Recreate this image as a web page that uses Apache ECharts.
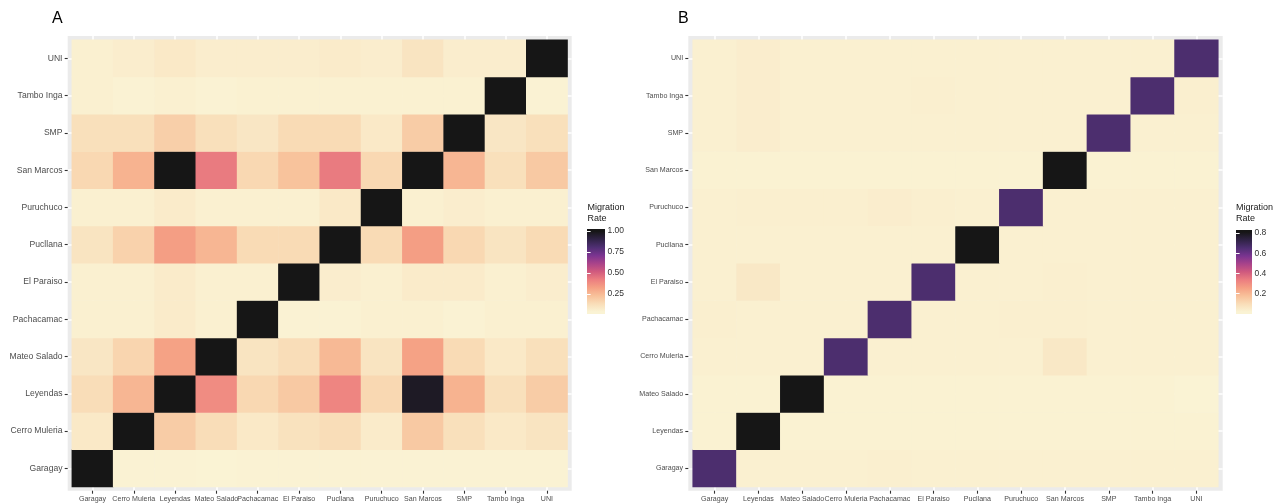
<!DOCTYPE html>
<html>
<head>
<meta charset="utf-8">
<script src="https://cdn.jsdelivr.net/npm/echarts@6/dist/echarts.min.js"></script>
<style>
  html, body { margin: 0; padding: 0; background: #ffffff; }
  #chart { width: 1284px; height: 504px; }
</style>
</head>
<body>
<div id="chart"></div>
<script>
// ---------------- DATA ----------------
const panelTitles = ['A', 'B'];
const legendTitle = 'Migration\nRate';

const categoriesA = ['Garagay', 'Cerro Muleria', 'Leyendas', 'Mateo Salado', 'Pachacamac', 'El Paraiso',
  'Pucllana', 'Puruchuco', 'San Marcos', 'SMP', 'Tambo Inga', 'UNI'];
const categoriesB = ['Garagay', 'Leyendas', 'Mateo Salado', 'Cerro Muleria', 'Pachacamac', 'El Paraiso',
  'Pucllana', 'Puruchuco', 'San Marcos', 'SMP', 'Tambo Inga', 'UNI'];

// rows follow the y categories (bottom to top), columns follow the x categories
const ratesA = [
  [1.00, 0.04, 0.04, 0.035, 0.04, 0.04, 0.04, 0.04, 0.04, 0.04, 0.04, 0.04],
  [0.08, 1.00, 0.19, 0.13, 0.08, 0.11, 0.13, 0.07, 0.20, 0.12, 0.08, 0.10],
  [0.13, 0.26, 1.00, 0.38, 0.15, 0.20, 0.40, 0.15, 0.97, 0.27, 0.12, 0.19],
  [0.09, 0.16, 0.32, 1.00, 0.10, 0.13, 0.25, 0.10, 0.32, 0.14, 0.08, 0.12],
  [0.05, 0.05, 0.07, 0.05, 1.00, 0.04, 0.04, 0.05, 0.05, 0.04, 0.05, 0.05],
  [0.05, 0.05, 0.07, 0.05, 0.05, 1.00, 0.06, 0.05, 0.07, 0.07, 0.05, 0.06],
  [0.10, 0.17, 0.33, 0.26, 0.14, 0.14, 1.00, 0.14, 0.33, 0.15, 0.10, 0.14],
  [0.05, 0.05, 0.07, 0.05, 0.05, 0.05, 0.08, 1.00, 0.05, 0.06, 0.05, 0.05],
  [0.15, 0.27, 1.00, 0.43, 0.15, 0.22, 0.43, 0.15, 1.00, 0.26, 0.12, 0.20],
  [0.12, 0.12, 0.18, 0.12, 0.09, 0.14, 0.14, 0.08, 0.19, 1.00, 0.09, 0.12],
  [0.05, 0.04, 0.05, 0.04, 0.045, 0.045, 0.045, 0.045, 0.045, 0.045, 1.00, 0.04],
  [0.05, 0.06, 0.08, 0.06, 0.06, 0.06, 0.07, 0.06, 0.10, 0.06, 0.06, 1.00]
];

const ratesB = [
  [0.66, 0.03, 0.03, 0.03, 0.035, 0.03, 0.03, 0.03, 0.03, 0.03, 0.03, 0.03],
  [0.025, 0.81, 0.025, 0.025, 0.025, 0.025, 0.025, 0.025, 0.025, 0.025, 0.025, 0.025],
  [0.025, 0.025, 0.81, 0.025, 0.025, 0.025, 0.025, 0.025, 0.025, 0.025, 0.025, 0.02],
  [0.03, 0.03, 0.03, 0.66, 0.03, 0.03, 0.03, 0.03, 0.06, 0.03, 0.03, 0.03],
  [0.035, 0.03, 0.03, 0.03, 0.66, 0.03, 0.03, 0.035, 0.035, 0.03, 0.03, 0.03],
  [0.03, 0.06, 0.03, 0.03, 0.03, 0.66, 0.03, 0.03, 0.035, 0.03, 0.03, 0.03],
  [0.03, 0.03, 0.03, 0.03, 0.03, 0.03, 0.81, 0.03, 0.03, 0.03, 0.03, 0.03],
  [0.03, 0.035, 0.035, 0.035, 0.04, 0.035, 0.03, 0.66, 0.03, 0.03, 0.03, 0.03],
  [0.025, 0.025, 0.025, 0.025, 0.025, 0.025, 0.025, 0.025, 0.81, 0.025, 0.025, 0.025],
  [0.03, 0.04, 0.03, 0.03, 0.03, 0.03, 0.03, 0.03, 0.03, 0.66, 0.03, 0.03],
  [0.03, 0.04, 0.03, 0.03, 0.03, 0.035, 0.03, 0.03, 0.03, 0.03, 0.66, 0.035],
  [0.03, 0.04, 0.03, 0.03, 0.03, 0.03, 0.03, 0.03, 0.03, 0.03, 0.03, 0.66]
];

const legendTicksA = [0.25, 0.50, 0.75, 1.00];
const legendTicksB = [0.2, 0.4, 0.6, 0.8];

// colour ramp, low -> high
const rampColors = ['#FAF3D4', '#F9DDB8', '#F8C19A', '#F5A084', '#EC7E80', '#D05A7E',
  '#A9438A', '#7A3490', '#4F2F73', '#302346', '#161616'];

// ---------------- BUILD ----------------
function toCells(rates) {
  const out = [];
  rates.forEach((row, yi) => row.forEach((v, xi) => out.push([xi, yi, v])));
  return out;
}
function extent(rates) {
  const flat = rates.flat();
  return [Math.min(...flat), Math.max(...flat)];
}
const extA = extent(ratesA);
const extB = extent(ratesB);

const FONT = 'Liberation Sans, Arial, Helvetica, sans-serif';
const AXIS_TEXT = '#4D4D4D';
const TICK = '#333333';
const NBIN = 20; // colour-bar bins: limits sit at the centres of the end bins

// layout (pixels)
const panels = [
  { left: 67.7, width: 504.0, top: 36, height: 454.7, yFont: 8.6, xFont: 7.1 },
  { left: 688.3, width: 534.4, top: 36, height: 454.7, yFont: 7.1, xFont: 7.1 }
];
const legends = [
  { left: 587, top: 229, width: 18, height: 85, titleLeft: 587.5 },
  { left: 1236, top: 230, width: 16, height: 84, titleLeft: 1236 }
];

function tileGrid(p) {
  const cw = p.width / 12.2, ch = p.height / 12.2;
  return {
    left: p.left + 0.1 * cw, top: p.top + 0.1 * ch,
    width: p.width - 0.2 * cw, height: p.height - 0.2 * ch,
    padX: 0.1 * cw, padY: 0.1 * ch
  };
}
const tilesA = tileGrid(panels[0]);
const tilesB = tileGrid(panels[1]);

function gradient() {
  const inset = 0.5 / NBIN;
  return new echarts.graphic.LinearGradient(0, 1, 0, 0,
    rampColors.map((c, i) => ({ offset: inset + (1 - 2 * inset) * i / (rampColors.length - 1), color: c })));
}

const grids = [];
const xAxes = [];
const yAxes = [];
const series = [];
const visualMaps = [];

// panel backgrounds with white major grid lines at the category centres
panels.forEach((p) => {
  const gi = grids.length;
  grids.push({ left: p.left, top: p.top, width: p.width, height: p.height,
    show: true, backgroundColor: '#EBEBEB', borderWidth: 0, containLabel: false });
  const bgAxis = {
    gridIndex: gi, type: 'value', min: 0.4, max: 12.6, splitNumber: 12,
    minInterval: 1, maxInterval: 1,
    axisLine: { show: false }, axisTick: { show: false }, axisLabel: { show: false },
    splitLine: { show: true, showMinLine: false, showMaxLine: false,
      lineStyle: { color: '#FFFFFF', width: 1.6 } }
  };
  xAxes.push(Object.assign({}, bgAxis));
  yAxes.push(Object.assign({}, bgAxis));
});

// heatmap grids
[[tilesA, categoriesA, ratesA, extA, panels[0]], [tilesB, categoriesB, ratesB, extB, panels[1]]]
  .forEach(([t, cats, rates, ext, p]) => {
    const gi = grids.length;
    grids.push({ left: t.left, top: t.top, width: t.width, height: t.height, containLabel: false });
    const xi = xAxes.length;
    xAxes.push({
      gridIndex: gi, type: 'category', data: cats, position: 'bottom', offset: t.padY,
      axisLine: { show: false },
      axisTick: { show: true, alignWithLabel: true, length: 3, lineStyle: { color: TICK, width: 1.1 } },
      axisLabel: { interval: 0, margin: 4.6, color: AXIS_TEXT, fontSize: p.xFont, fontFamily: FONT },
      splitLine: { show: false }
    });
    const yi = yAxes.length;
    yAxes.push({
      gridIndex: gi, type: 'category', data: cats, position: 'left', offset: t.padX,
      axisLine: { show: false },
      axisTick: { show: true, alignWithLabel: true, length: 3, lineStyle: { color: TICK, width: 1.1 } },
      axisLabel: { interval: 0, margin: 5.2, color: AXIS_TEXT, fontSize: p.yFont, fontFamily: FONT },
      splitLine: { show: false }
    });
    const si = series.length;
    series.push({
      type: 'heatmap', xAxisIndex: xi, yAxisIndex: yi, data: toCells(rates),
      itemStyle: { borderWidth: 0 }, emphasis: { disabled: true }, silent: true
    });
    visualMaps.push({
      type: 'continuous', show: false, seriesIndex: si, dimension: 2,
      min: ext[0], max: ext[1], inRange: { color: rampColors }
    });
  });

// colour-bar legends
[[legends[0], extA, legendTicksA, 2], [legends[1], extB, legendTicksB, 1]].forEach(([L, ext, ticks, dec]) => {
  const gi = grids.length;
  const pad = 0.5 * (ext[1] - ext[0]) / (NBIN - 1);
  const lo = ext[0] - pad, hi = ext[1] + pad;
  grids.push({ left: L.left, top: L.top, width: L.width, height: L.height,
    show: true, backgroundColor: gradient(), borderWidth: 0, containLabel: false });
  xAxes.push({ gridIndex: gi, type: 'value', show: false, min: 0, max: 1 });
  yAxes.push({
    gridIndex: gi, type: 'value', position: 'right', min: lo, max: hi,
    axisLine: { show: false }, splitLine: { show: false },
    axisTick: { show: true, inside: true, length: 3.6, customValues: ticks,
      lineStyle: { color: '#FFFFFF', width: 1 } },
    axisLabel: { show: true, customValues: ticks, margin: 2.5, color: '#333333',
      fontSize: 8.5, fontFamily: FONT, formatter: (v) => Number(v).toFixed(dec) }
  });
  yAxes.push({
    gridIndex: gi, type: 'value', position: 'left', min: lo, max: hi,
    axisLine: { show: false }, splitLine: { show: false }, axisLabel: { show: false },
    axisTick: { show: true, inside: true, length: 3.6, customValues: ticks,
      lineStyle: { color: '#FFFFFF', width: 1 } }
  });
});

const titles = [
  { text: panelTitles[0], left: 52, top: 11,
    textStyle: { fontSize: 16, fontWeight: 'normal', color: '#000', fontFamily: FONT } },
  { text: panelTitles[1], left: 678, top: 11,
    textStyle: { fontSize: 16, fontWeight: 'normal', color: '#000', fontFamily: FONT } },
  { text: legendTitle, left: legends[0].titleLeft, top: 202,
    textStyle: { fontSize: 9, fontWeight: 'normal', color: '#1A1A1A', fontFamily: FONT, lineHeight: 11.3 } },
  { text: legendTitle, left: legends[1].titleLeft, top: 202,
    textStyle: { fontSize: 9, fontWeight: 'normal', color: '#1A1A1A', fontFamily: FONT, lineHeight: 11.3 } }
];

const chart = echarts.init(document.getElementById('chart'), null, { renderer: 'canvas' });
chart.setOption({
  animation: false,
  backgroundColor: '#FFFFFF',
  title: titles.map(t => Object.assign({ padding: 0 }, t)),
  grid: grids,
  xAxis: xAxes,
  yAxis: yAxes,
  visualMap: visualMaps,
  series: series
});
</script>
</body>
</html>
